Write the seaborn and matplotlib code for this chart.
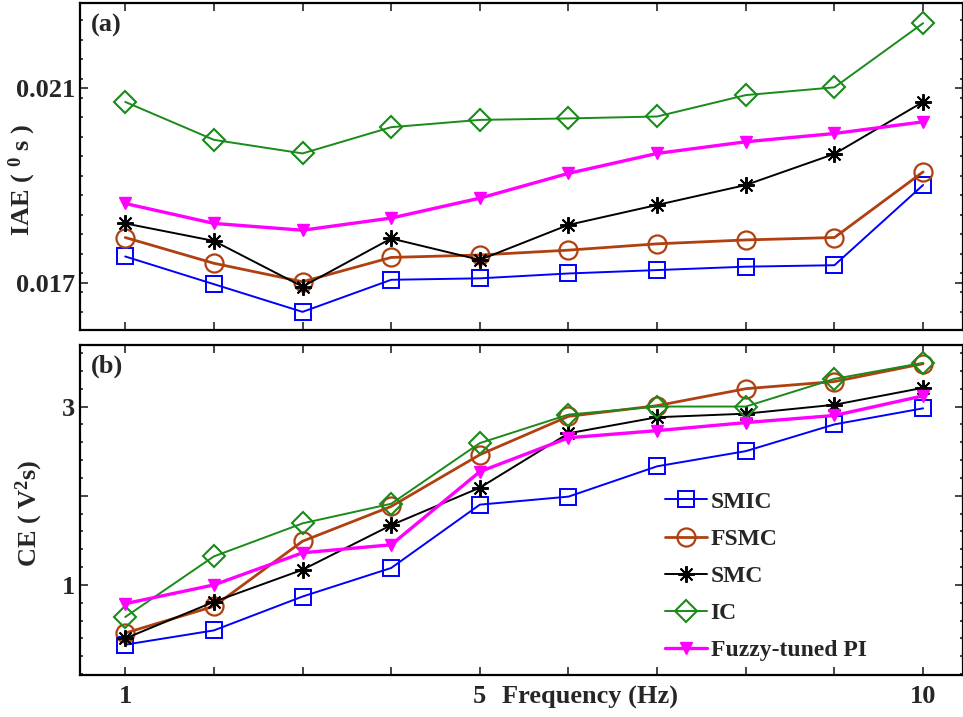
import matplotlib
matplotlib.use("Agg")
import matplotlib.pyplot as plt
from matplotlib.ticker import FixedLocator, FixedFormatter, MultipleLocator
import seaborn as sns
import pandas as pd

# Excitation frequency (Hz)
freq = [1, 2, 3, 4, 5, 6, 7, 8, 9, 10]

# (a) Integral absolute error
iae_smic = [0.01754, 0.01697, 0.01640, 0.01706, 0.01709, 0.01719, 0.01726, 0.01733, 0.01736, 0.01901]
iae_fsmc = [0.01793, 0.01740, 0.01702, 0.01752, 0.01757, 0.01767, 0.01780, 0.01788, 0.01793, 0.01928]
iae_smc = [0.01822, 0.01786, 0.01692, 0.01791, 0.01747, 0.01819, 0.01860, 0.01901, 0.01965, 0.02072]
iae_ic = [0.02072, 0.01994, 0.01966, 0.02020, 0.02035, 0.02038, 0.02042, 0.02086, 0.02102, 0.02234]
iae_fpi = [0.01863, 0.01822, 0.01808, 0.01833, 0.01874, 0.01925, 0.01966, 0.01990, 0.02007, 0.02031]

# (b) Control effort
ce_smic = [0.33, 0.49, 0.87, 1.19, 1.90, 1.99, 2.33, 2.50, 2.80, 2.98]
ce_fsmc = [0.46, 0.76, 1.49, 1.88, 2.46, 2.89, 3.01, 3.20, 3.28, 3.48]
ce_smc = [0.40, 0.81, 1.17, 1.67, 2.09, 2.70, 2.88, 2.92, 3.02, 3.21]
ce_ic = [0.64, 1.32, 1.69, 1.91, 2.59, 2.91, 3.00, 3.00, 3.31, 3.49]
ce_fpi = [0.79, 1.00, 1.36, 1.45, 2.27, 2.65, 2.73, 2.82, 2.90, 3.12]

series_names = ["SMIC", "FSMC", "SMC", "IC", "Fuzzy-tuned PI"]
xtick_labels = ["1", "", "", "", "5", "", "", "", "", "10"]
iae_ticks = [0.017, 0.021]
iae_tick_labels = ["0.017", "0.021"]
ce_ticks = [1, 2, 3]
ce_tick_labels = ["1", "", "3"]

sns.set_theme(style="white")
plt.rcParams["font.family"] = ["Liberation Serif", "DejaVu Serif"]
plt.rcParams["font.weight"] = "bold"
plt.rcParams["mathtext.fontset"] = "custom"
plt.rcParams["mathtext.rm"] = "Liberation Serif:bold"
plt.rcParams["mathtext.bf"] = "Liberation Serif:bold"
plt.rcParams["mathtext.it"] = "Liberation Serif:bold"
plt.rcParams["mathtext.default"] = "rm"

FS = 19

styles = {
    "SMIC": dict(color="#0000FF", marker="s", ms=11, lw=1.4, mfc="none", mew=1.4),
    "FSMC": dict(color="#B0400F", marker="o", ms=13, lw=2.0, mfc="none", mew=1.6),
    "SMC": dict(color="#000000", marker=(8, 2, 0), ms=12, lw=1.4, mfc="none", mew=1.4),
    "IC": dict(color="#1A8A1A", marker="D", ms=11, lw=1.4, mfc="none", mew=1.5),
    "Fuzzy-tuned PI": dict(color="#FF00FF", marker="v", ms=8.5, lw=2.4, mfc="#FF00FF", mew=1.0),
}

W, H = 963, 717
fig = plt.figure(figsize=(W / 100, H / 100), dpi=100)
ax_a = fig.add_axes([80 / W, 1 - 330 / H, 883 / W, 327 / H])
ax_b = fig.add_axes([80 / W, 1 - 675 / H, 883 / W, 330 / H])


def draw(ax, data):
    for name, vals in zip(series_names, data):
        st = styles[name]
        df = pd.DataFrame({"freq": freq, "value": vals})
        sns.lineplot(data=df, x="freq", y="value", ax=ax, label=name,
                     color=st["color"], marker=st["marker"], markersize=st["ms"],
                     linewidth=st["lw"], markerfacecolor=st["mfc"],
                     markeredgecolor=st["color"], markeredgewidth=st["mew"])


draw(ax_a, [iae_smic, iae_fsmc, iae_smc, iae_ic, iae_fpi])
draw(ax_b, [ce_smic, ce_fsmc, ce_smc, ce_ic, ce_fpi])

for ax in (ax_a, ax_b):
    ax.set_xlim(0.49, 10.45)
    ax.xaxis.set_major_locator(FixedLocator(freq))
    ax.tick_params(which="both", direction="in", top=True, right=True,
                   left=True, bottom=True, width=1.2, labelsize=FS)
    ax.tick_params(which="major", length=6)
    ax.tick_params(which="minor", length=2.5)
    for sp in ax.spines.values():
        sp.set_linewidth(1.6)
        sp.set_color("black")
    ax.set_xlabel("")
    for lab in ax.get_xticklabels() + ax.get_yticklabels():
        lab.set_fontweight("bold")

ax_a.set_ylim(0.016027, 0.022755)
ax_a.yaxis.set_major_locator(FixedLocator(iae_ticks))
ax_a.yaxis.set_major_formatter(FixedFormatter(iae_tick_labels))
ax_a.yaxis.set_minor_locator(MultipleLocator(0.0004))
ax_a.set_xticklabels([])
ax_a.set_ylabel("IAE ( $^{0}$ s )", fontsize=FS, fontweight="bold")
ax_a.yaxis.set_label_coords(-0.047, 0.46)
ax_a.text(0.012, 0.93, "(a)", transform=ax_a.transAxes, fontsize=FS,
          fontweight="bold", ha="left", va="center")
ax_a.get_legend().remove()

ax_b.set_ylim(-0.01, 3.69)
ax_b.yaxis.set_major_locator(FixedLocator(ce_ticks))
ax_b.yaxis.set_major_formatter(FixedFormatter(ce_tick_labels))
ax_b.yaxis.set_minor_locator(MultipleLocator(0.2))
ax_b.xaxis.set_major_formatter(FixedFormatter(xtick_labels))
ax_b.tick_params(axis="x", pad=7)
ax_b.set_ylabel("CE ( V$^{2}$s)", fontsize=FS, fontweight="bold")
ax_b.yaxis.set_label_coords(-0.040, 0.49)
ax_b.text(0.012, 0.936, "(b)", transform=ax_b.transAxes, fontsize=FS,
          fontweight="bold", ha="left", va="center")
fig.text(590 / W, 1 - 697 / H, "Frequency (Hz)", fontsize=FS,
         fontweight="bold", ha="center", va="center")

ax_b.legend(loc="upper left", bbox_to_anchor=(0.662, 0.557), frameon=False,
            borderaxespad=0, borderpad=0, handlelength=1.8, handletextpad=0.15,
            labelspacing=0.66, prop={"size": 17, "weight": "bold"})

fig.savefig("out.png", dpi=100)
